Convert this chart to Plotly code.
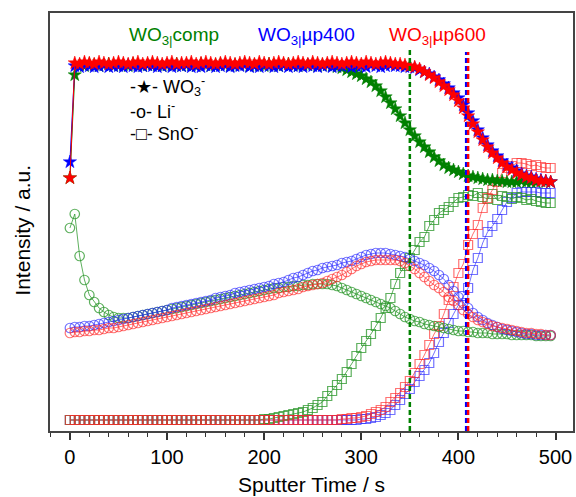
import plotly.graph_objects as go

# Sputter time (s)
time_s = [
    0, 5, 10, 15, 20, 25, 30, 35, 40, 45,
    50, 55, 60, 65, 70, 75, 80, 85, 90, 95,
    100, 105, 110, 115, 120, 125, 130, 135, 140, 145,
    150, 155, 160, 165, 170, 175, 180, 185, 190, 195,
    200, 205, 210, 215, 220, 225, 230, 235, 240, 245,
    250, 255, 260, 265, 270, 275, 280, 285, 290, 295,
    300, 305, 310, 315, 320, 325, 330, 335, 340, 345,
    350, 355, 360, 365, 370, 375, 380, 385, 390, 395,
    400, 405, 410, 415, 420, 425, 430, 435, 440, 445,
    450, 455, 460, 465, 470, 475, 480, 485, 490, 495,
]

# WO3- intensity (a.u.)
wo3_comp = [
    253, 356, 366, 365, 367, 366, 365, 366, 367, 365,
    366, 366, 365, 367, 366, 365, 366, 367, 366, 365,
    366, 366, 367, 365, 366, 366, 365, 367, 366, 365,
    366, 367, 366, 365, 366, 366, 367, 365, 366, 366,
    365, 367, 366, 365, 366, 367, 366, 365, 366, 366,
    367, 365, 366, 366, 365, 364, 363, 361, 359, 357,
    355, 352, 349, 345, 340, 334, 328, 322, 315, 308,
    301, 295, 289, 284, 279, 274, 270, 266, 263, 261,
    259, 257, 255, 254, 253, 252, 251, 251, 250, 250,
    249, 249, 249, 250, 249, 249, 249, 250, 249, 249,
]
wo3_up400 = [
    269, 365, 364, 366, 365, 364, 365, 366, 364, 365,
    365, 364, 366, 365, 364, 365, 366, 365, 364, 365,
    366, 364, 365, 365, 366, 364, 365, 364, 366, 365,
    364, 365, 366, 364, 365, 365, 366, 364, 365, 364,
    366, 365, 364, 365, 366, 364, 365, 365, 364, 366,
    365, 364, 365, 366, 364, 365, 365, 366, 364, 365,
    365, 364, 366, 365, 364, 365, 366, 365, 365, 364,
    364, 363, 361, 359, 357, 354, 351, 347, 343, 338,
    333, 326, 318, 310, 301, 293, 286, 280, 275, 270,
    266, 263, 260, 257, 255, 254, 252, 251, 250, 249,
]
wo3_up600 = [
    253, 368, 367, 369, 368, 367, 369, 368, 367, 368,
    369, 368, 367, 368, 369, 367, 368, 369, 368, 367,
    368, 369, 367, 368, 368, 369, 367, 368, 369, 368,
    367, 368, 369, 368, 367, 368, 369, 368, 367, 369,
    368, 367, 368, 369, 368, 367, 368, 369, 368, 367,
    369, 368, 367, 368, 369, 368, 367, 368, 369, 368,
    367, 369, 368, 367, 368, 369, 368, 367, 367, 366,
    365, 364, 362, 359, 356, 353, 349, 345, 341, 336,
    330, 323, 315, 307, 299, 291, 284, 278, 273, 268,
    264, 261, 258, 256, 254, 253, 251, 250, 250, 249,
]

# Li- intensity (a.u.)
li_comp = [
    203, 217, 175, 151, 136, 129, 123, 119, 116, 114,
    113, 113, 113, 114, 115, 116, 117, 118, 119, 120,
    121, 122, 123, 124, 125, 126, 127, 128, 129, 130,
    131, 132, 133, 134, 135, 136, 137, 138, 139, 140,
    141, 142, 143, 143, 144, 144, 145, 145, 146, 146,
    147, 147, 147, 147, 146, 145, 143, 141, 139, 137,
    135, 133, 131, 129, 127, 125, 123, 120, 117, 114,
    112, 110, 109, 107, 106, 105, 104, 103, 102, 101,
    100, 100, 99, 99, 98, 98, 98, 97, 97, 97,
    97, 96, 96, 96, 96, 96, 95, 95, 95, 95,
]
li_up400 = [
    103, 104, 104, 105, 105, 106, 107, 108, 109, 110,
    111, 112, 113, 114, 115, 116, 117, 118, 119, 120,
    121, 123, 124, 125, 126, 127, 128, 129, 130, 131,
    133, 134, 135, 136, 138, 139, 140, 141, 142, 143,
    144, 145, 147, 148, 149, 151, 153, 154, 156, 158,
    160, 161, 163, 164, 165, 166, 168, 169, 170, 172,
    174, 176, 177, 178, 178, 178, 177, 176, 175, 174,
    172, 170, 168, 166, 163, 160, 156, 152, 146, 140,
    134, 128, 123, 118, 114, 111, 108, 106, 104, 102,
    101, 100, 99, 98, 97, 97, 96, 96, 96, 96,
]
li_up600 = [
    98, 99, 99, 100, 100, 101, 101, 102, 103, 103,
    104, 105, 106, 107, 108, 109, 110, 111, 112, 113,
    114, 115, 116, 117, 118, 119, 120, 121, 122, 123,
    124, 125, 126, 127, 128, 129, 130, 131, 132, 133,
    134, 135, 136, 138, 139, 140, 141, 142, 144, 145,
    146, 147, 148, 150, 152, 154, 156, 159, 162, 165,
    167, 169, 170, 171, 171, 171, 171, 171, 170, 168,
    165, 162, 158, 154, 150, 146, 143, 139, 134, 130,
    126, 121, 117, 114, 111, 109, 107, 105, 104, 103,
    102, 101, 100, 99, 98, 98, 97, 97, 96, 96,
]

# SnO- intensity (a.u.)
sno_comp = [
    11, 11, 11, 11, 11, 11, 11, 11, 11, 11,
    11, 11, 11, 11, 11, 11, 11, 11, 11, 11,
    11, 11, 11, 11, 11, 11, 11, 11, 11, 11,
    11, 11, 11, 11, 11, 11, 11, 11, 11, 11,
    12, 12, 13, 14, 15, 16, 17, 18, 19, 21,
    23, 26, 29, 35, 40, 46, 52, 59, 67, 75,
    83, 90, 97, 105, 113, 123, 133, 147, 158, 165,
    173, 181, 189, 194, 205, 211, 218, 221, 224, 229,
    233, 234, 236, 235, 238, 234, 232, 237, 231, 235,
    234, 232, 234, 233, 231, 232, 230, 229, 228, 228,
]
sno_up400 = [
    11, 11, 11, 11, 11, 11, 11, 11, 11, 11,
    11, 11, 11, 11, 11, 11, 11, 11, 11, 11,
    11, 11, 11, 11, 11, 11, 11, 11, 11, 11,
    11, 11, 11, 11, 11, 11, 11, 11, 11, 11,
    11, 11, 11, 11, 11, 11, 11, 11, 11, 11,
    11, 11, 11, 11, 11, 11, 11, 11, 11, 11,
    12, 12, 13, 14, 16, 18, 21, 26, 31, 37,
    42, 49, 55, 61, 68, 78, 89, 98, 108, 117,
    126, 135, 143, 161, 173, 188, 199, 205, 212, 221,
    229, 233, 238, 239, 239, 239, 239, 238, 238, 238,
]
sno_up600 = [
    11, 11, 11, 11, 11, 11, 11, 11, 11, 11,
    11, 11, 11, 11, 11, 11, 11, 11, 11, 11,
    11, 11, 11, 11, 11, 11, 11, 11, 11, 11,
    11, 11, 11, 11, 11, 11, 11, 11, 11, 11,
    11, 11, 11, 11, 11, 11, 11, 11, 11, 11,
    11, 11, 11, 11, 11, 11, 12, 12, 13, 13,
    14, 15, 17, 19, 21, 24, 29, 33, 38, 44,
    50, 58, 67, 76, 86, 97, 105, 117, 131, 144,
    158, 167, 186, 197, 206, 223, 233, 241, 249, 258,
    263, 265, 268, 268, 267, 265, 266, 264, 263, 263,
]

# Interface markers (s): comp, up400, up600
interface_times = [350, 408, 410]
sample_names = ["WO<sub>3|</sub>comp", "WO<sub>3|</sub>\u00b5p400", "WO<sub>3|</sub>\u00b5p600"]
legend_lines = ["-\u2605- WO<sub>3</sub><sup>-</sup>", "-o- Li<sup>-</sup>", "-\u25a1- SnO<sup>-</sup>"]

GREEN = "rgb(0,128,0)"
BLUE = "rgb(0,0,255)"
RED = "rgb(255,0,0)"
GREEN_L = "rgba(40,150,40,0.75)"
BLUE_L = "rgba(40,40,255,0.65)"
RED_L = "rgba(255,40,40,0.65)"

FONT = "Arial, 'Liberation Sans', sans-serif"

fig = go.Figure()

def add_open(y, col, sym, size):
    fig.add_trace(go.Scatter(
        x=time_s, y=y, mode="lines+markers",
        line=dict(color=col, width=1),
        marker=dict(symbol=sym, size=size, color=col, line=dict(color=col, width=1.2)),
        showlegend=False, hoverinfo="skip"))

for y, col in [(sno_up400, BLUE_L), (sno_comp, GREEN_L), (sno_up600, RED_L)]:
    add_open(y, col, "square-open", 9)
for y, col in [(li_comp, GREEN_L), (li_up400, BLUE_L), (li_up600, RED_L)]:
    add_open(y, col, "circle-open", 9.5)

for y, col in [(wo3_comp, GREEN), (wo3_up400, BLUE), (wo3_up600, RED)]:
    fig.add_trace(go.Scatter(
        x=time_s, y=y, mode="lines+markers",
        line=dict(color=col, width=1),
        marker=dict(symbol="star", size=10, color=col, line=dict(color=col, width=0.5)),
        showlegend=False, hoverinfo="skip"))

for t, col, top in zip(interface_times, [GREEN, BLUE, RED], [381, 379, 379]):
    fig.add_shape(type="line", x0=t, x1=t, y0=0, y1=top, xref="x", yref="y",
                  line=dict(color=col, width=2.5, dash="5px,3px"), layer="above")

for name, col, xp in zip(sample_names, [GREEN, BLUE, RED], [0.238, 0.490, 0.741]):
    fig.add_annotation(text=name, x=xp, y=0.945, xref="paper", yref="paper",
                       showarrow=False, xanchor="center", yanchor="middle",
                       font=dict(family=FONT, size=19, color=col))

for txt, yp in zip(legend_lines, [0.823, 0.766, 0.713]):
    fig.add_annotation(text=txt, x=0.1486, y=yp, xref="paper", yref="paper",
                       showarrow=False, xanchor="left", yanchor="middle",
                       font=dict(family=FONT, size=18, color="black"))

fig.add_annotation(text="Sputter Time / s", x=0.5, y=-0.128, xref="paper", yref="paper",
                   showarrow=False, xanchor="center", yanchor="middle",
                   font=dict(family=FONT, size=21, color="black"))
fig.add_annotation(text="Intensity / a.u.", x=-0.053, y=0.48, xref="paper", yref="paper",
                   showarrow=False, textangle=-90, xanchor="center", yanchor="middle",
                   font=dict(family=FONT, size=21, color="black"))

fig.update_layout(
    width=576, height=497,
    margin=dict(l=50, r=1, t=13, b=66),
    plot_bgcolor="white", paper_bgcolor="white",
    font=dict(family=FONT, color="black"),
)
fig.update_xaxes(range=[-20.5, 518], dtick=100, tick0=0, ticks="outside", ticklen=7,
                 tickwidth=1.5, tickcolor="#333", showline=True, linecolor="#444",
                 linewidth=1.5, mirror=True, showgrid=False, zeroline=False,
                 tickfont=dict(family=FONT, size=20, color="black"),
                 minor=dict(dtick=20, ticks="outside", ticklen=4, tickwidth=1.2, tickcolor="#333"))
fig.update_yaxes(range=[0, 418], showticklabels=False, ticks="", showline=True,
                 linecolor="#444", linewidth=1.5, mirror=True, showgrid=False, zeroline=False)

fig.write_html("out.html")
